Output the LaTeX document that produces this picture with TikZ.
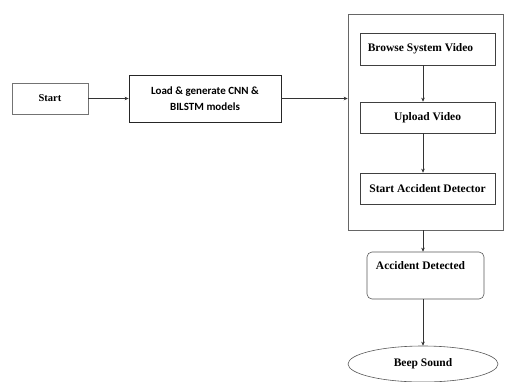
\documentclass[tikz,border=0pt]{standalone}
\usepackage{fontspec}
\setmainfont{Liberation Serif}
\newfontfamily\calib{Carlito}
\usetikzlibrary{arrows.meta,shapes.geometric}
\begin{document}
\begin{tikzpicture}[x=1pt,y=-1pt,
  every node/.style={inner sep=0pt},
  boxstyle/.style={draw=black!75,line width=0.6pt,font=\bfseries\fontsize{11.5}{13}\selectfont},
  conn/.style={draw=black!80,line width=0.6pt,-{Stealth[length=4pt,width=3.5pt]}}]
\useasboundingbox (0,0) rectangle (505,381);
\node[boxstyle,draw=black!55,minimum width=76pt,minimum height=31pt,font=\bfseries\fontsize{10.5}{12}\selectfont] (start) at (50,98.5) {Start};
\node[boxstyle,draw=black!85,line width=0.8pt,minimum width=152pt,minimum height=47pt,align=center,font=\calib\bfseries\fontsize{11}{16}\selectfont] (load) at (205,98.5) {Load \& generate CNN \&\\BILSTM models};
\node[draw=black!60,line width=0.6pt,minimum width=155pt,minimum height=216pt] (big) at (425.5,122) {};
\node[boxstyle,minimum width=135pt,minimum height=32pt] (browse) at (427.5,49) {Browse System Video\hspace*{14pt}};
\node[boxstyle,minimum width=135pt,minimum height=31pt] (upload) at (427.5,117.5) {Upload Video};
\node[boxstyle,minimum width=135pt,minimum height=31pt] (detector) at (427.5,188.5) {Start Accident Detector};
\node[draw=black!65,line width=0.6pt,rounded corners=5pt,minimum width=117pt,minimum height=47pt,
  label={[anchor=north,yshift=-10pt,xshift=-5pt,font=\bfseries\fontsize{11.5}{13}\selectfont]north:Accident Detected}] (detected) at (425.5,275.5) {};
\node[ellipse,boxstyle,draw=black!65,minimum width=150pt,minimum height=36pt] (beep) at (423,364) {Beep Sound};
\draw[conn] (start) -- (load);
\draw[conn] (load.east) -- (load.east -| big.west);
\draw[conn] (browse.south -| 423,0) -- (upload.north -| 423,0);
\draw[conn] (upload.south -| 423,0) -- (detector.north -| 423,0);
\draw[conn] (big.south -| 423,0) -- (detected.north -| 423,0);
\draw[conn] (detected.south -| 423,0) -- (beep.north);
\end{tikzpicture}
\end{document}
